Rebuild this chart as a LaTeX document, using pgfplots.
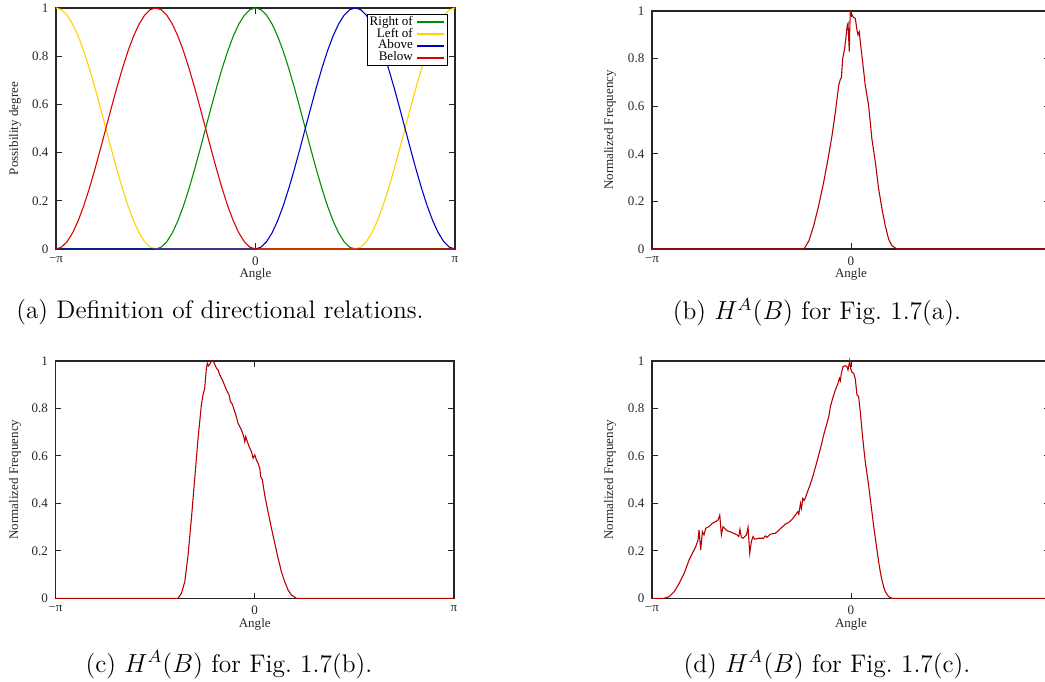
\documentclass[border=0pt]{standalone}
\usepackage{fontspec}
\usepackage{pgfplots}
\pgfplotsset{compat=1.18}
\newfontfamily\gp{Liberation Serif}
\definecolor{gpgreen}{RGB}{0,140,0}
\definecolor{gpyellow}{RGB}{255,210,0}
\definecolor{gpblue}{RGB}{0,0,200}
\definecolor{gpred}{RGB}{220,0,0}
\definecolor{histred}{RGB}{185,0,0}

\pgfplotsset{
  gpaxis/.style={
    scale only axis, clip=false,
    xmin=-180, xmax=180, ymin=0, ymax=1,
    xtick={-180,0,180}, xticklabels={−π,0,π},
    ytick={0,0.2,0.4,0.6,0.8,1},
    tick align=inside, major tick length=2.6pt,
    axis line style={black!85, line width=0.55pt},
    tick style={black!85, line width=0.45pt},
    /pgf/number format/assume math mode=true,
    tick label style={font=\gp\fontsize{6}{7}\selectfont, text=black!85},
    label style={font=\gp\fontsize{6}{7}\selectfont, text=black!85},
    xlabel={Angle},
  },
  hist/.style={histred, line width=0.5pt},
}

\begin{document}
\begin{tikzpicture}
\useasboundingbox (0pt,0pt) rectangle (480.7pt,313.26pt);
\clip (0pt,0pt) rectangle (480.7pt,313.26pt);

% (a) definition of the four relations
\begin{axis}[gpaxis,
  at={(25.76pt,198.72pt)}, anchor=south west,
  width=183.5pt, height=110.9pt,
  ylabel={Possibility degree},
  xlabel style={at={(axis description cs:0.5,-0.104)}, anchor=center},
  ylabel style={at={(axis description cs:-0.103,0.5)}, anchor=center},
  legend cell align=right, legend plot pos=right,
  legend image code/.code={\draw[#1,line width=0.95pt] (0pt,0pt) -- (12.4pt,0pt);},
  legend style={at={(0.982,0.975)}, anchor=north east, draw=black,
    fill=white, inner sep=1pt, row sep=0pt, column sep=1.5pt,
    nodes={inner sep=0pt, text height=4.1pt, text depth=1.3pt},
    font=\gp\fontsize{6}{6}\selectfont},
]
\addplot[gpgreen, line width=0.5pt] coordinates {
(-180,0)(-90,0)(-85,0.0076)(-80,0.03015)(-75,0.06699)(-70,0.11698)(-65,0.17861)(-60,0.25)(-55,0.32899)(-50,0.41318)(-45,0.5)(-40,0.58682)(-35,0.67101)(-30,0.75)(-25,0.82139)(-20,0.88302)(-15,0.93301)(-10,0.96985)(-5,0.9924)(0,1)(5,0.9924)(10,0.96985)(15,0.93301)(20,0.88302)(25,0.82139)(30,0.75)(35,0.67101)(40,0.58682)(45,0.5)(50,0.41318)(55,0.32899)(60,0.25)(65,0.17861)(70,0.11698)(75,0.06699)(80,0.03015)(85,0.0076)(90,0)(180,0)
};
\addplot[gpyellow, line width=0.5pt] coordinates {
(-180,1)(-175,0.9924)(-170,0.96985)(-165,0.93301)(-160,0.88302)(-155,0.82139)(-150,0.75)(-145,0.67101)(-140,0.58682)(-135,0.5)(-130,0.41318)(-125,0.32899)(-120,0.25)(-115,0.17861)(-110,0.11698)(-105,0.06699)(-100,0.03015)(-95,0.0076)(-90,0)(90,0)(95,0.0076)(100,0.03015)(105,0.06699)(110,0.11698)(115,0.17861)(120,0.25)(125,0.32899)(130,0.41318)(135,0.5)(140,0.58682)(145,0.67101)(150,0.75)(155,0.82139)(160,0.88302)(165,0.93301)(170,0.96985)(175,0.9924)(180,1)
};
\addplot[gpblue, line width=0.5pt] coordinates {
(-180,0)(0,0)(5,0.0076)(10,0.03015)(15,0.06699)(20,0.11698)(25,0.17861)(30,0.25)(35,0.32899)(40,0.41318)(45,0.5)(50,0.58682)(55,0.67101)(60,0.75)(65,0.82139)(70,0.88302)(75,0.93301)(80,0.96985)(85,0.9924)(90,1)(95,0.9924)(100,0.96985)(105,0.93301)(110,0.88302)(115,0.82139)(120,0.75)(125,0.67101)(130,0.58682)(135,0.5)(140,0.41318)(145,0.32899)(150,0.25)(155,0.17861)(160,0.11698)(165,0.06699)(170,0.03015)(175,0.0076)(180,0)
};
\addplot[gpred, line width=0.5pt] coordinates {
(-180,0)(-175,0.0076)(-170,0.03015)(-165,0.06699)(-160,0.11698)(-155,0.17861)(-150,0.25)(-145,0.32899)(-140,0.41318)(-135,0.5)(-130,0.58682)(-125,0.67101)(-120,0.75)(-115,0.82139)(-110,0.88302)(-105,0.93301)(-100,0.96985)(-95,0.9924)(-90,1)(-85,0.9924)(-80,0.96985)(-75,0.93301)(-70,0.88302)(-65,0.82139)(-60,0.75)(-55,0.67101)(-50,0.58682)(-45,0.5)(-40,0.41318)(-35,0.32899)(-30,0.25)(-25,0.17861)(-20,0.11698)(-15,0.06699)(-10,0.03015)(-5,0.0076)(0,0)(180,0)
};
\legend{Right of,Left of,Above,Below}
\end{axis}

% (b)
\begin{axis}[gpaxis,
  at={(299.9pt,198.72pt)}, anchor=south west,
  width=183.1pt, height=109.5pt,
  xticklabels={−π,0,},
  ylabel={Normalized Frequency},
  xlabel style={at={(axis description cs:0.5,-0.105)}, anchor=center},
  ylabel style={at={(axis description cs:-0.1055,0.5)}, anchor=center},
]
\addplot[hist] coordinates {
(-180,0)(-42.5,0)(-38,0.035)(-33.7,0.098)(-29.2,0.183)(-24.7,0.281)(-20.2,0.393)(-17.1,0.478)(-14.1,0.576)(-11.1,0.688)(-9.6,0.713)(-8.7,0.719)(-7.5,0.80)(-5.7,0.843)(-4.5,0.892)(-3.3,0.941)(-2.7,0.948)(-2.1,0.885)(-1.5,0.829)(-1.2,0.91)(-0.6,0.997)(0,1.0)(0.9,0.983)(2.4,0.972)(3.9,0.969)(5.4,0.92)(6.3,0.899)(7.5,0.913)(8.4,0.871)(10.5,0.787)(12.9,0.688)(15.9,0.604)(18.9,0.463)(22.0,0.365)(25.0,0.253)(28.0,0.169)(31.0,0.098)(34.0,0.042)(37.0,0.014)(41.5,0)(180,0)
};
\end{axis}

% (c)
\begin{axis}[gpaxis,
  at={(25.53pt,38.04pt)}, anchor=south west,
  width=183.3pt, height=109.2pt,
  ylabel={Normalized Frequency},
  xlabel style={at={(axis description cs:0.5,-0.11)}, anchor=center},
  ylabel style={at={(axis description cs:-0.1016,0.5)}, anchor=center},
]
\addplot[hist] coordinates {
(-180,0)(-69.3,0)(-66.2,0.021)(-63.2,0.070)(-60.2,0.183)(-57.2,0.337)(-54.2,0.506)(-51.2,0.674)(-48.2,0.815)(-46.7,0.857)(-45.2,0.885)(-43.7,0.969)(-42.8,0.990)(-41.9,0.979)(-40.6,0.986)(-39.1,1.0)(-37.6,1.0)(-36.1,0.986)(-34.6,0.969)(-33.1,0.962)(-31.6,0.941)(-28.6,0.913)(-25.6,0.878)(-23.2,0.857)(-22.0,0.829)(-20.2,0.817)(-18.1,0.787)(-16.6,0.765)(-15.1,0.737)(-13.5,0.723)(-12.0,0.709)(-9.9,0.681)(-9.0,0.660)(-8.1,0.681)(-6.9,0.663)(-5.1,0.639)(-3.0,0.618)(-1.5,0.590)(0,0.604)(1.5,0.583)(3.0,0.569)(4.5,0.548)(5.4,0.513)(6.9,0.499)(9.0,0.435)(12.0,0.365)(15.1,0.295)(18.1,0.232)(21.1,0.169)(24.1,0.112)(27.1,0.070)(30.1,0.035)(33.1,0.014)(37.6,0)(180,0)
};
\end{axis}

% (d)
\begin{axis}[gpaxis,
  at={(299.9pt,38.04pt)}, anchor=south west,
  width=183.1pt, height=109.2pt,
  xticklabels={−π,0,},
  ylabel={Normalized Frequency},
  xlabel style={at={(axis description cs:0.5,-0.11)}, anchor=center},
  ylabel style={at={(axis description cs:-0.1055,0.5)}, anchor=center},
]
\addplot[hist] coordinates {
(-180,0)(-168.9,0)(-164.4,0.007)(-159.9,0.028)(-155.4,0.063)(-150.9,0.105)(-146.4,0.162)(-143.4,0.190)(-140.4,0.218)(-138.3,0.246)(-137.4,0.288)(-135.9,0.204)(-134.4,0.281)(-132.9,0.267)(-131.4,0.295)(-128.4,0.302)(-125.4,0.316)(-122.4,0.323)(-120.2,0.330)(-118.7,0.351)(-117.2,0.267)(-115.7,0.302)(-114.2,0.295)(-112.1,0.285)(-107.6,0.277)(-103.0,0.267)(-101.5,0.26)(-100.4,0.291)(-99.2,0.257)(-97.6,0.253)(-94.6,0.267)(-93.1,0.299)(-91.6,0.190)(-90.1,0.239)(-88.6,0.260)(-87.1,0.249)(-83.5,0.253)(-79.0,0.253)(-77.5,0.263)(-76.0,0.257)(-73.0,0.270)(-68.5,0.274)(-65.5,0.285)(-62.5,0.299)(-59.5,0.312)(-56.2,0.320)(-53.2,0.333)(-50.2,0.351)(-48.1,0.365)(-47.2,0.354)(-45.7,0.400)(-44.8,0.379)(-43.6,0.421)(-42.4,0.412)(-41.2,0.424)(-38.8,0.456)(-37.6,0.470)(-35.8,0.494)(-33.7,0.527)(-31.6,0.562)(-29.2,0.604)(-26.8,0.646)(-24.7,0.688)(-22.6,0.723)(-20.1,0.765)(-18.6,0.808)(-16.5,0.843)(-14.1,0.878)(-11.7,0.906)(-10.5,0.927)(-9.6,0.916)(-8.7,0.948)(-7.2,0.976)(-5.1,0.980)(-3.6,0.976)(-2.7,0.962)(-1.8,0.983)(-1.2,1.0)(-0.3,0.969)(0.9,0.952)(2.4,0.948)(3.9,0.924)(5.4,0.857)(6.9,0.850)(8.4,0.787)(9.9,0.709)(11.4,0.639)(12.9,0.576)(14.4,0.527)(15.9,0.478)(17.4,0.421)(18.9,0.365)(20.4,0.309)(22.0,0.253)(23.5,0.204)(25.0,0.154)(26.5,0.112)(28.0,0.077)(29.5,0.049)(31.0,0.028)(34.0,0.007)(37.0,0)(180,0)
};
\end{axis}

% sub-captions
\begin{scope}[every node/.style={font=\fontsize{11.7}{14}\selectfont}]
\node at (101.2pt,169.7pt) {(a) Definition of directional relations.};
\node at (375.8pt,169.7pt) {(b) $H^A(B)$ for Fig.~1.7(a).};
\node at (105.3pt,7.4pt) {(c) $H^A(B)$ for Fig.~1.7(b).};
\node at (380.4pt,7.4pt) {(d) $H^A(B)$ for Fig.~1.7(c).};
\end{scope}
\end{tikzpicture}
\end{document}
